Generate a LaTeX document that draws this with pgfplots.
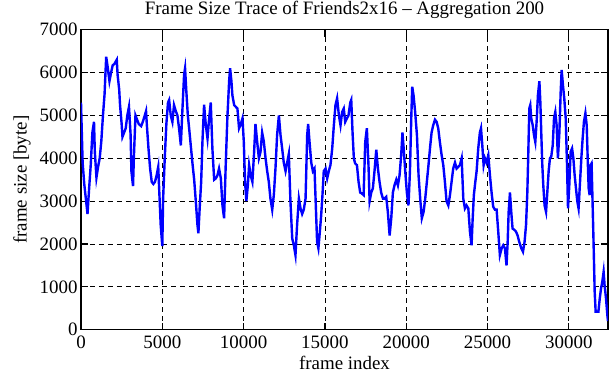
\documentclass[border=0pt]{standalone}
\usepackage{fontspec}
\setmainfont{Liberation Serif}
\usepackage{pgfplots}
\pgfplotsset{compat=1.18}
\pgfplotstableread{
f v
0 5300
100 3900
200 3400
300 3050
400 2700
500 3300
600 3850
700 4600
800 4850
850 4150
950 3550
1050 3800
1150 4000
1250 4400
1350 5000
1450 5500
1500 5950
1550 6370
1650 6100
1750 5800
1850 6000
1950 6170
2050 6200
2200 6300
2250 5950
2350 5600
2400 5250
2500 4800
2550 4500
2650 4600
2750 4700
2850 5000
2950 5200
3050 4550
3100 3700
3200 3350
3250 4000
3350 5000
3450 4900
3550 4800
3700 4750
3800 4850
3900 4970
4000 5100
4050 4780
4150 4230
4250 3760
4350 3450
4450 3400
4550 3450
4650 3600
4750 3800
4850 2900
4900 2450
5000 1950
5050 3050
5150 4000
5250 4800
5350 5300
5420 5360
5520 5000
5620 4850
5720 5240
5830 5100
5930 5000
6030 4700
6140 4300
6240 5160
6340 5950
6400 6100
6480 5550
6570 5000
6650 4700
6750 4300
6850 3900
6960 3500
7060 3000
7160 2450
7220 2250
7300 2850
7390 3450
7470 4400
7570 5250
7670 4800
7780 4460
7880 4930
7980 5300
8080 4230
8190 3500
8290 3530
8390 3600
8490 3760
8600 3530
8700 2900
8800 2600
8900 3840
9000 4930
9110 5800
9170 6100
9250 5800
9310 5470
9420 5240
9520 5200
9620 5160
9720 4700
9830 4800
9930 4930
10010 4400
10090 3450
10170 3000
10260 3370
10340 3840
10440 3600
10540 3450
10640 4100
10730 4800
10830 4400
10940 4000
11040 4150
11140 4600
11240 4400
11350 4000
11450 3700
11550 3450
11650 3060
11760 2800
11860 3150
11960 3760
12060 4540
12170 5000
12270 4540
12370 4230
12470 3900
12580 3700
12680 3900
12780 4100
12880 3000
12990 2130
13090 1970
13190 1740
13290 2450
13400 3060
13500 2830
13600 2700
13700 2800
13810 3060
13910 4540
13970 4800
14050 4400
14160 3900
14260 3700
14360 3760
14440 2900
14520 2050
14600 1900
14690 2290
14770 2670
14850 3140
14930 3700
15040 3760
15140 3530
15240 3700
15340 3840
15450 4230
15550 4770
15650 5240
15750 5400
15860 5000
15960 4770
16060 5080
16160 5160
16250 4850
16350 4930
16450 5000
16560 5300
16620 5360
16700 4600
16780 4000
16860 3880
16970 3840
17070 3450
17170 3200
17270 3180
17380 3140
17480 4380
17580 4700
17680 3840
17750 3000
17850 3200
17950 3300
18050 3700
18160 4200
18260 3760
18360 3450
18460 3200
18570 3060
18670 3060
18770 3100
18870 2750
18980 2200
19080 2600
19180 3200
19280 3370
19390 3500
19490 3370
19590 3600
19690 4070
19770 4600
19860 4150
19940 3700
20040 3200
20140 2900
20230 3700
20310 4930
20370 5670
20450 5470
20550 5080
20660 4540
20760 3600
20860 3060
20960 2600
21070 2750
21170 3060
21270 3450
21370 3840
21480 4300
21560 4600
21660 4770
21770 4900
21870 4850
21970 4700
22070 4380
22180 4070
22280 3840
22380 3450
22480 3000
22590 2900
22690 3140
22790 3450
22890 3760
23000 3900
23100 3760
23200 3800
23300 3840
23410 4000
23510 3060
23610 2830
23710 2900
23820 2830
23920 2290
24020 1970
24080 2530
24160 3140
24250 3450
24330 3700
24430 4230
24530 4600
24600 4700
24680 4300
24760 3840
24840 4000
24940 3900
25050 4070
25150 3600
25250 3200
25350 2870
25460 2800
25560 2800
25660 2290
25760 1740
25870 1900
25970 1970
26070 1900
26170 1500
26240 2050
26300 2750
26380 3200
26460 2750
26540 2360
26650 2330
26750 2290
26850 2200
26950 2050
27080 1900
27180 1820
27280 2050
27370 2450
27450 3220
27510 4150
27570 5160
27630 5240
27690 4930
27780 4770
27860 4540
27940 4380
28020 4850
28100 5470
28190 5800
28250 5300
28310 4540
28370 3840
28430 3370
28510 2900
28600 2750
28680 3220
28760 3700
28840 4000
28920 4040
29010 4300
29090 4930
29170 5080
29250 4770
29330 4000
29420 4600
29500 5550
29560 6060
29640 5700
29720 5400
29810 4930
29890 3840
29950 2830
30030 3370
30110 4150
30200 4230
30280 4000
30360 3600
30440 3300
30520 3000
30600 2830
30690 3450
30770 4000
30850 4460
30930 4850
31020 5050
31100 4770
31160 4000
31220 3300
31280 3140
31340 3840
31400 3880
31470 2830
31530 1900
31590 890
31650 420
31730 420
31820 420
31900 720
31980 960
32060 1120
32140 1350
32200 1040
32290 720
32370 340
32410 200
}\trace
\begin{document}
\begin{tikzpicture}
\begin{axis}[name=ax, scale only axis, width=527bp, height=300bp,
  xmin=0, xmax=32410, ymin=0, ymax=7000,
  scaled ticks=false,
  xtick={0,5000,10000,15000,20000,25000,30000},
  xticklabels={0,5000,10000,15000,20000,25000,30000},
  ytick={0,1000,2000,3000,4000,5000,6000,7000},
  yticklabels={0,1000,2000,3000,4000,5000,6000,7000},
  tick align=inside, tick pos=both,
  major tick length=7bp,
  every tick/.style={black, line width=1.2bp},
  axis line style={line width=1.5bp},
  grid=major,
  major grid style={black, line width=0.8bp, dash pattern=on 5bp off 4bp},
  tick label style={font=\fontsize{19}{22}\selectfont},
  xticklabel style={yshift=-3bp},
  label style={font=\fontsize{19}{22}\selectfont},
  ylabel style={yshift=2bp},
  title style={font=\fontsize{19}{22}\selectfont, yshift=2bp},
  title={Frame Size Trace of Friends2x16 – Aggregation 200},
  xlabel={frame index}, ylabel={frame size [byte]},
]
\addplot[color={rgb,255:red,0;green,0;blue,255}, line width=2.4bp, mark=none] table[x=f,y=v] {\trace};
\end{axis}
\pgfresetboundingbox
\path ([shift={(-81bp,-50.5bp)}]ax.south west) rectangle ([shift={(3bp,29.7bp)}]ax.north east);
\end{tikzpicture}
\end{document}
